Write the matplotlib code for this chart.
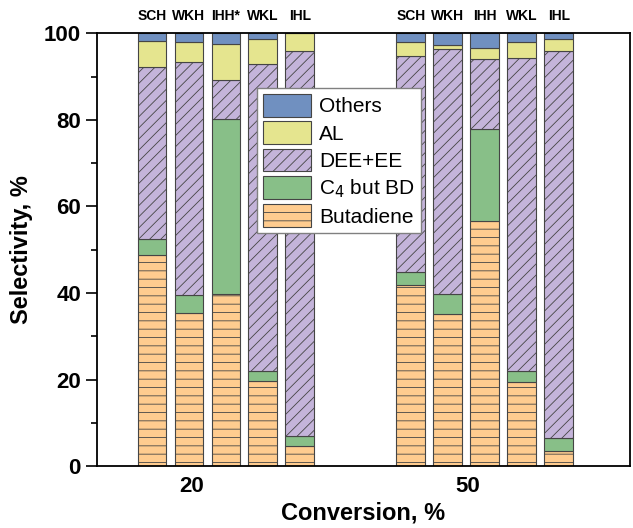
import numpy as np
import matplotlib
matplotlib.use("Agg")
import matplotlib.pyplot as plt
from matplotlib.ticker import MultipleLocator

plt.rcParams['font.family'] = ['Liberation Sans', 'DejaVu Sans']
plt.rcParams['hatch.linewidth'] = 0.6

conversions = ["20", "50"]
catalysts_20 = ["SCH", "WKH", "IHH*", "WKL", "IHL"]
catalysts_50 = ["SCH", "WKH", "IHH", "WKL", "IHL"]

# segment sizes (selectivity, %) per catalyst, bottom to top
butadiene_20 = [48.9, 35.4, 39.8, 19.6, 4.7]
c4_20 = [3.5, 4.2, 40.4, 2.5, 2.2]
dee_20 = [39.9, 53.8, 9.0, 70.9, 89.1]
al_20 = [5.8, 4.5, 8.3, 5.7, 4.0]
others_20 = [1.9, 2.1, 2.5, 1.3, 0.0]

butadiene_50 = [41.8, 35.1, 56.6, 19.4, 3.5]
c4_50 = [3.0, 4.6, 21.2, 2.7, 3.1]
dee_50 = [50.0, 56.6, 16.2, 72.3, 89.3]
al_50 = [3.1, 1.0, 2.7, 3.6, 2.8]
others_50 = [2.1, 2.7, 3.3, 2.0, 1.3]

series = [
    ("Butadiene", butadiene_20, butadiene_50, '#ffcc8f', '--'),
    ("C$_4$ but BD", c4_20, c4_50, '#88bf88', None),
    ("DEE+EE", dee_20, dee_50, '#c4b4da', '///'),
    ("AL", al_20, al_50, '#e5e58f', None),
    ("Others", others_20, others_50, '#7090c0', None),
]

fig = plt.figure(figsize=(6.33, 5.28), dpi=100)
ax = fig.add_axes([0.153, 0.117, 0.842, 0.820])

width = 0.78
x20 = np.arange(5)
x50 = np.arange(5) + 7

bottom20 = np.zeros(5)
bottom50 = np.zeros(5)
handles = []
for label, v20, v50, color, hatch in series:
    b = ax.bar(x20, v20, width, bottom=bottom20, color=color, edgecolor='#454545',
               linewidth=0.8, hatch=hatch, label=label)
    ax.bar(x50, v50, width, bottom=bottom50, color=color, edgecolor='#454545',
           linewidth=0.8, hatch=hatch)
    bottom20 += np.array(v20)
    bottom50 += np.array(v50)
    handles.append(b)

for xs, names in [(x20, catalysts_20), (x50, catalysts_50)]:
    for x, name in zip(xs, names):
        ax.text(x, 104.0, name, ha='center', va='center', fontsize=10,
                fontweight='bold', clip_on=False)

ax.set_xlim(-1.49, 12.92)
ax.set_ylim(0, 100)
ax.set_xticks([1.08, 8.54])
ax.set_xticklabels(conversions)
ax.tick_params(axis='x', length=0, pad=7, labelsize=16)
ax.yaxis.set_major_locator(MultipleLocator(20))
ax.yaxis.set_minor_locator(MultipleLocator(10))
ax.tick_params(axis='y', which='major', direction='out', length=8, width=1.2, labelsize=16)
ax.tick_params(axis='y', which='minor', direction='out', length=4, width=1.2)
for lab in ax.get_xticklabels() + ax.get_yticklabels():
    lab.set_fontweight('bold')
for sp in ax.spines.values():
    sp.set_linewidth(1.3)

ax.set_ylabel("Selectivity, %", fontsize=17, fontweight='bold', labelpad=8)
ax.set_xlabel("Conversion, %", fontsize=17, fontweight='bold', labelpad=3)

leg = ax.legend(handles[::-1], [s[0] for s in series][::-1], loc='upper left',
                bbox_to_anchor=(0.30, 0.874), fontsize=15, fancybox=False,
                edgecolor='#808080', framealpha=1, handlelength=2.3,
                handleheight=1.3, labelspacing=0.22, borderpad=0.3,
                handletextpad=0.4, borderaxespad=0)
leg.get_frame().set_linewidth(1.0)

fig.savefig("out.png", dpi=100)
